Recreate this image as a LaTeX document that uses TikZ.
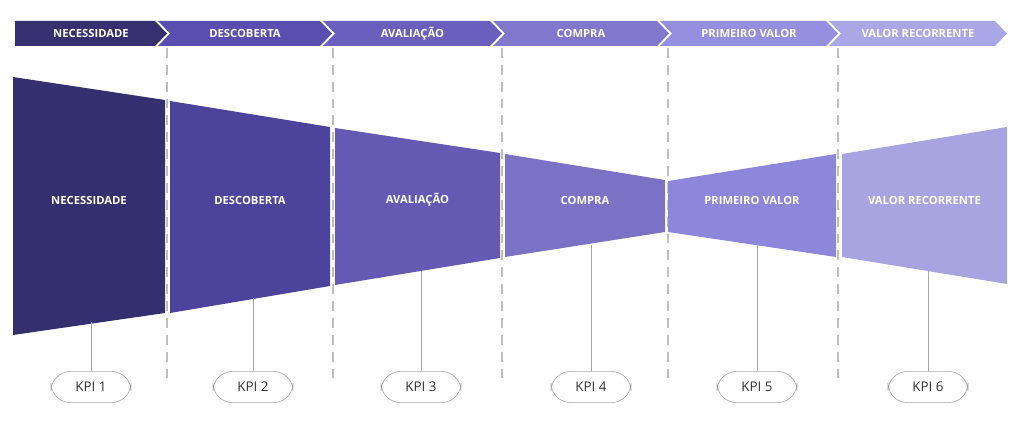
\documentclass[tikz,border=0pt]{standalone}
\usepackage{fontspec}
\setmainfont{Open Sans}
\usetikzlibrary{positioning}
\definecolor{cA}{HTML}{34306F}
\definecolor{cB}{HTML}{4B439C}
\definecolor{cC}{HTML}{6559B4}
\definecolor{cD}{HTML}{7B72C6}
\definecolor{cE}{HTML}{8D87DC}
\definecolor{cF}{HTML}{A8A4E2}
\definecolor{bA}{HTML}{363070}
\definecolor{bB}{HTML}{5A4FB0}
\definecolor{bC}{HTML}{6A5FBD}
\definecolor{bD}{HTML}{8177CC}
\definecolor{bE}{HTML}{958FE0}
\definecolor{bF}{HTML}{AAA7E6}
\tikzset{
  stagetxt/.style={text=white,font=\bfseries\fontsize{8}{9}\selectfont},
  kpibox/.style={draw=gray!70,rounded corners=14pt,minimum width=2cm,minimum height=0.78cm,fill=white,font=\fontsize{9.5}{11}\selectfont,text=black!80},
  guide/.style={gray!50,dashed,dash pattern=on 7pt off 5pt,line width=0.8pt},
  stem/.style={gray!70,line width=0.6pt}
}
\begin{document}
\begin{tikzpicture}[x=0.025cm,y=-0.025cm]
\useasboundingbox (0,0) rectangle (1024,426);

% guide lines
\foreach \gx in {167,333,502,668,838}
  \draw[guide] (\gx,48) -- (\gx,380);

% chevron bar
\foreach \xa/\xb/\col/\txt [count=\i] in {15/155/bA/NECESSIDADE,158/320/bB/DESCOBERTA,323/490/bC/AVALIAÇÃO,493/657/bD/COMPRA,660/826/bE/PRIMEIRO VALOR,829/995/bF/VALOR RECORRENTE}{
  \ifnum\i=1
    \fill[\col] (\xa,21) -- (\xb,21) -- (\xb+12,33.5) -- (\xb,46) -- (\xa,46) -- cycle;
  \else
    \fill[\col] (\xa,21) -- (\xb,21) -- (\xb+12,33.5) -- (\xb,46) -- (\xa,46) -- (\xa+12,33.5) -- cycle;
  \fi
  \node[stagetxt] (bar\i) at ({(\xa+\xb)/2+6},33.5) {\txt};
}

% funnel
\foreach \xl/\xr/\lt/\lb/\rt/\rb/\col/\txt [count=\i] in {
  13/165/77/335/100/313/cA/NECESSIDADE,
  170/330/101/313/127/286/cB/DESCOBERTA,
  335/500/128/285/153/258/cC/AVALIAÇÃO,
  505/665/154/257/180/232/cD/COMPRA,
  668/836/181/232/154/257/cE/PRIMEIRO VALOR,
  842/1007/154/257/127/284/cF/VALOR RECORRENTE}{
  \fill[\col] (\xl,\lt) -- (\xr,\rt) -- (\xr,\rb) -- (\xl,\lb) -- cycle;
  \node[stagetxt] (stage\i) at ({(\xl+\xr)/2},200) {\txt};
}

% KPIs
\foreach \kx/\fy [count=\i] in {91/322,253/298,421/271,591/245,757/245,928/271}{
  \coordinate (foot\i) at (\kx,\fy);
  \node[kpibox] (kpi\i) at (\kx,387) {KPI \i};
  \draw[stem] (foot\i) -- (kpi\i);
}
\end{tikzpicture}
\end{document}
